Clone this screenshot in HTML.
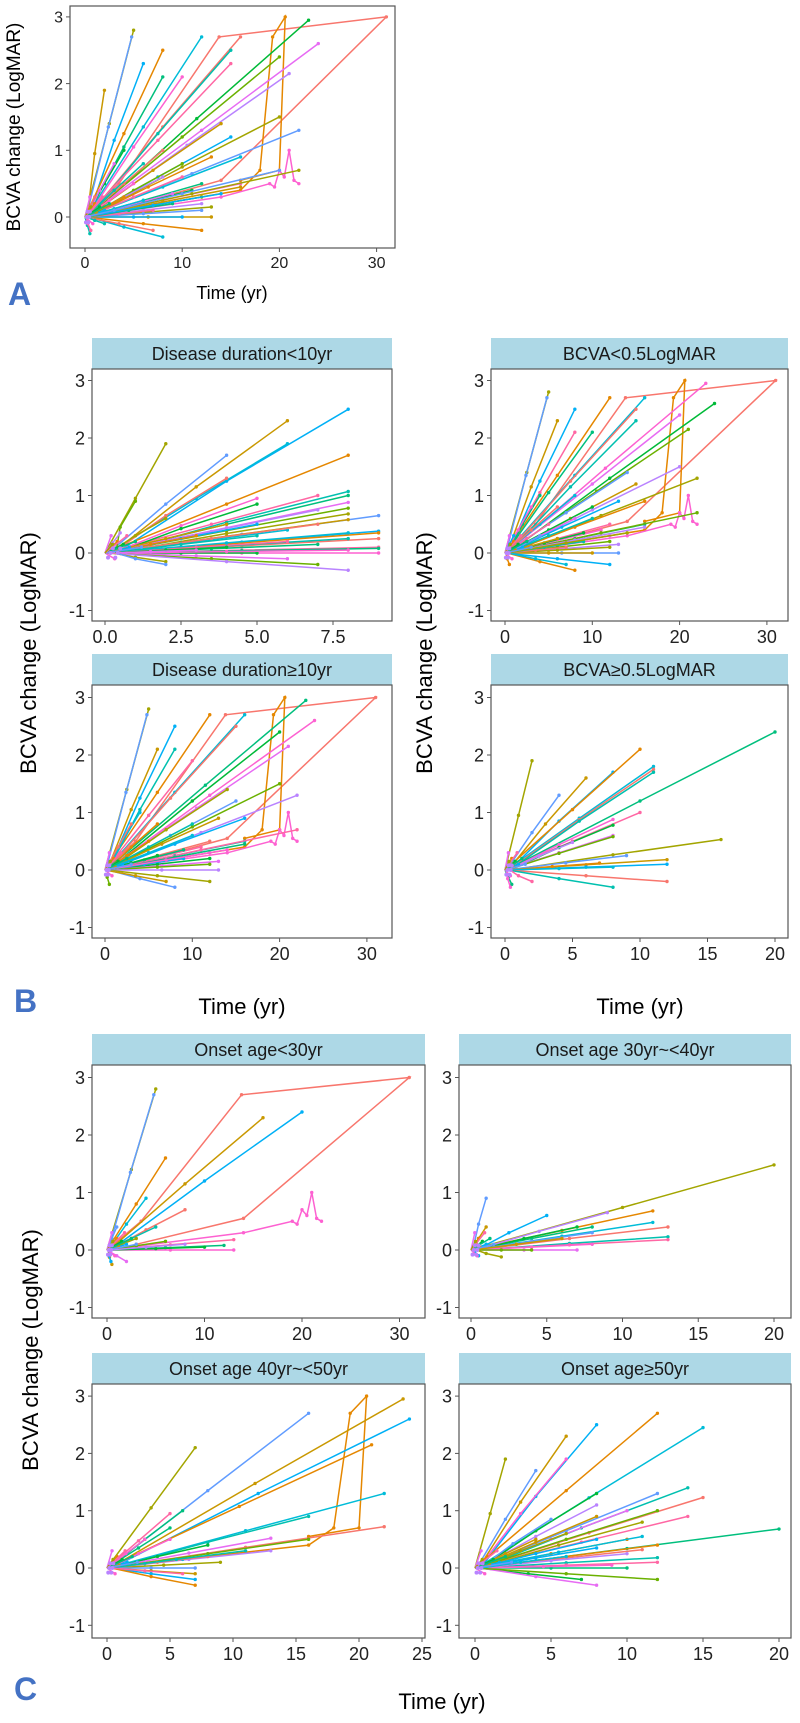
<!DOCTYPE html>
<html><head><meta charset="utf-8">
<style>
html,body{margin:0;padding:0;background:#fff;}
svg{display:block;font-family:"Liberation Sans",Arial,sans-serif;}
</style></head>
<body>
<svg id="fig" width="800" height="1723" viewBox="0 0 800 1723" xmlns="http://www.w3.org/2000/svg">
<text x="20" y="127" font-size="19" text-anchor="middle" transform="rotate(-90 20 127)">BCVA change (LogMAR)</text>
<text x="232" y="299" font-size="18" text-anchor="middle">Time (yr)</text>
<text x="8" y="305" font-size="32" font-weight="bold" fill="#4472C4">A</text>
<text x="36" y="653" font-size="22" text-anchor="middle" transform="rotate(-90 36 653)">BCVA change (LogMAR)</text>
<text x="432" y="653" font-size="22" text-anchor="middle" transform="rotate(-90 432 653)">BCVA change (LogMAR)</text>
<text x="242" y="1014" font-size="22" text-anchor="middle">Time (yr)</text>
<text x="640" y="1014" font-size="22" text-anchor="middle">Time (yr)</text>
<text x="14" y="1012" font-size="32" font-weight="bold" fill="#4472C4">B</text>
<text x="38" y="1350" font-size="22" text-anchor="middle" transform="rotate(-90 38 1350)">BCVA change (LogMAR)</text>
<text x="442" y="1709" font-size="22" text-anchor="middle">Time (yr)</text>
<text x="14" y="1700" font-size="32" font-weight="bold" fill="#4472C4">C</text>
</svg>
<script>
const aT=[5,4.8,2,6,8,12,16,15,15,8,10,23,24,20,21,20,22,14,15,13,16,8,6,10,12,16,11,9,12,12,13,12,13,10,12,8,7,2,7,9,5,4,3,10,8,22,20,16,14,4,6,1,0.5,0.6];
const aV=[2.8,2.7,1.9,2.3,2.5,2.7,2.7,2.5,2.3,2.1,2.1,2.95,2.6,2.4,2.15,1.5,1.3,1.4,1.2,0.9,0.9,1.0,0.8,0.6,0.5,0.5,0.4,0.35,0.3,0.2,0.15,0.1,0,0,-0.2,-0.3,-0.2,-0.1,0.1,0.2,0.5,1.0,0.8,0.8,0.6,0.7,0.7,0.45,0.35,0.3,0.25,0.3,-0.25,-0.2];
const b1T=[2,4,6,8,8,6,4,8,7,8,5,5,8,8,7,8,9,8,9,9,8,9,8,9,9,9,5,6,7,8,2,2,4,5,3,6,7,5,6,7,8,4,3,1,0.5,2];
const b1V=[1.9,1.7,2.3,2.5,1.7,1.9,1.3,1.07,1.0,1.0,0.95,0.85,0.88,0.78,0.75,0.68,0.65,0.58,0.38,0.35,0.35,0.25,0.25,0.1,0.08,0,0,-0.1,-0.2,-0.3,-0.15,-0.2,0.5,0.5,0.3,0.4,0.5,0.3,0.2,0.15,0.05,0.1,0.05,0.9,0.35,0.6];
const b2T=[5,4.8,6,8,12,16,15,15,8,10,23,24,20,21,20,22,14,15,13,16,8,6,10,12,16,11,9,12,12,13,12,13,10,12,8,7,7,9,5,4,3,10,8,22,16,14,4,6,1,0.5];
const b2V=[2.8,2.7,2.3,2.5,2.7,2.7,2.5,2.3,2.1,2.1,2.95,2.6,2.4,2.15,1.5,1.3,1.4,1.2,0.9,0.9,1.0,0.8,0.6,0.5,0.5,0.4,0.35,0.3,0.2,0.15,0.1,0,0,-0.2,-0.3,-0.2,0.1,0.2,0.5,1.0,0.8,0.8,0.6,0.7,0.45,0.35,0.3,0.25,0.3,-0.2];
const b3T=[5,4.8,6,8,12,16,15,8,10,23,24,20,21,20,22,14,15,13,16,6,10,12,16,11,9,12,12,13,12,13,12,8,7,9,5,4,3,10,22,16,14,6,1,0.5];
const b3V=[2.8,2.7,2.1,2.5,2.7,2.7,2.5,2.1,1.9,2.95,2.6,2.4,2.15,1.5,1.3,1.4,1.2,0.9,0.9,0.8,0.6,0.5,0.5,0.4,0.35,0.3,0.2,0.15,0.1,0,-0.2,-0.3,-0.2,0.2,0.5,1.0,0.8,0.8,0.7,0.45,0.35,0.25,0.2,-0.25];
const b4T=[2,4,6,8,10,11,11,11,10,20,8,8,8,8,5,16,9,12,12,7,8,12,8,2,0.5,0.4];
const b4V=[1.9,1.3,1.6,1.7,2.1,1.8,1.75,1.7,1.0,2.4,0.88,0.78,0.6,0.58,0.48,0.53,0.25,0.18,0.1,0.12,0.05,-0.2,-0.3,-0.2,-0.25,-0.3];
const c1T=[5,4.8,16,20,6,4,8,5,13,12,13,10,2,6,8,3,1,0.5,0.4];
const c1V=[2.8,2.7,2.3,2.4,1.6,0.9,0.7,0.4,0.18,0.08,0,0.05,-0.2,0.15,0.1,0.2,0.4,-0.25,-0.2];
const c2T=[20,1,1,5,12,12,13,13,13,8,8,7,7,4,9,2,8,6,0.5];
const c2V=[1.48,0.9,0.4,0.6,0.68,0.48,0.4,0.23,0.18,0.4,0.1,0.4,0,0,0.65,-0.12,0.3,0.2,-0.1];
const c3T=[7,16,23.5,24,21,22,22,16,5,6,5,8,13,16,13,9,7,7,7,7,6,8,11,6,5,3];
const c3V=[2.1,2.7,2.95,2.6,2.15,1.3,0.72,0.9,0.95,1.0,0.5,0.4,0.52,0.5,0.3,0.1,0,-0.1,-0.2,-0.3,0.15,0.2,0.3,-0.1,0.7,0.5];
const c4T=[2,4,6,8,12,15,15,14,14,20,6,8,10,12,8,11,12,8,8,10,11,11,12,12,10,9,7,8,12,10,6,5,4,8,12,6];
const c4V=[1.9,1.7,2.3,2.5,2.7,2.45,1.23,1.4,0.9,0.68,1.9,1.3,1.0,1.0,1.1,0.8,1.3,0.9,0.5,0.5,0.55,0.32,0.18,0.1,0,0.05,-0.2,-0.3,-0.2,0.25,0.6,0.85,0.5,0.35,0.4,0.2];
// short early-visit segments near origin
const shortT=[0.5,1,1.5,2,0.8,1.2,2.5,3,1.8,0.6];
const shortV=[0.3,0.2,0.15,0.1,-0.1,0.05,0.2,0.1,0.3,0.15];
const loopT=[0,3.5,13.8,31,14,3];
const loopV=[0,0.5,2.7,3,0.55,0.1];
const spikeT=[0,16,18,19.3,20.6,20,16];
const spikeV=[0,0.4,0.7,2.7,3,0.7,0.55];
const wigT=[0,14,19,19.5,20,20.5,21,21.5,22];
const wigV=[0,0.3,0.5,0.45,0.7,0.6,1.0,0.55,0.5];

const PAL=["#F8766D","#E58700","#C99800","#A3A500","#6BB100","#00BA38","#00BF7D","#00C0AF","#00BCD8","#00B0F6","#619CFF","#B983FF","#E76BF3","#FD61D1","#FF67A4"];
const NS="http://www.w3.org/2000/svg";
const svg=document.getElementById('fig');
function mk(tag,attrs,parent){const e=document.createElementNS(NS,tag);for(const k in attrs)e.setAttribute(k,attrs[k]);(parent||svg).appendChild(e);return e;}

function panel(id,cfg){
  const g=mk('g',{});
  
  
  const X=t=>cfg.x0+t*cfg.xs, Y=v=>cfg.y0-v*cfg.ys;
  if(cfg.strip){
    const s=mk('rect',{x:cfg.L,y:cfg.T-31,width:cfg.R-cfg.L,height:31,fill:"#ADD8E6"},g);
    
    
    const st=mk('text',{x:(cfg.L+cfg.R)/2,y:cfg.T-9,'font-size':18,'text-anchor':'middle',fill:'#1a1a1a'},g);
    st.textContent=cfg.strip;
    
    
  }
  const clip='clip-'+id;
  const cp=mk('clipPath',{id:clip},g);mk('rect',{x:cfg.L,y:cfg.T,width:cfg.R-cfg.L,height:cfg.B-cfg.T},cp);
  const lines=mk('g',{'clip-path':'url(#'+clip+')'},g);
  const drawPath=(ts,vs,ci,name)=>{
    const pts=ts.map((t,i)=>X(t).toFixed(1)+','+Y(vs[i]).toFixed(1)).join(' ');
    const pl=mk('polyline',{points:pts,fill:'none',stroke:PAL[ci%15],'stroke-width':1.5},lines);
    
    
    ts.forEach((t,i)=>{if(i>0)mk('circle',{cx:X(t),cy:Y(vs[i]),r:1.7,fill:PAL[ci%15]},lines);});
  };
  (cfg.specials||[]).forEach(s=>drawPath(s[0],s[1],s[2],id+'-special-trajectory'));
  cfg.T_.forEach((t,i)=>{
    const ci=(i*7+3)%15;
    const st=(i%4)*0.12;
    drawPath([st,t*0.5,t],[0,cfg.V_[i]*0.5,cfg.V_[i]],ci,id+'-trajectory');
  });
  shortT.forEach((t,i)=>{
    drawPath([0,t*cfg.sf],[0,shortV[i]],(i*4+12)%15,id+'-short-trajectory');
  });
  for(let k=0;k<6;k++)mk('circle',{cx:X(0.1+k*0.08),cy:Y(((k%3)-1)*0.08),r:2,fill:'#B983FF'},lines);
  const fr=mk('rect',{x:cfg.L,y:cfg.T,width:cfg.R-cfg.L,height:cfg.B-cfg.T,fill:'none',stroke:'#555','stroke-width':1.2},g);
  
  
  cfg.yt.forEach(v=>{
    mk('line',{x1:cfg.L-4,x2:cfg.L,y1:Y(v),y2:Y(v),stroke:'#555'},g);
    const tx=mk('text',{x:cfg.L-7,y:Y(v)+cfg.fs*0.36,'font-size':cfg.fs,'text-anchor':'end',fill:'#222'},g);
    tx.textContent=v;
    
    
  });
  cfg.xt.forEach((v,i)=>{
    mk('line',{x1:X(v),x2:X(v),y1:cfg.B,y2:cfg.B+4,stroke:'#555'},g);
    const tx=mk('text',{x:X(v),y:cfg.B+4+cfg.fs,'font-size':cfg.fs,'text-anchor':'middle',fill:'#222'},g);
    tx.textContent=cfg.xl?cfg.xl[i]:v;
    
    
  });
}
const Y5=[-1,0,1,2,3];
panel('a',{L:70,R:395,T:6,B:248,x0:85,xs:9.72,y0:217,ys:66.7,yt:[0,1,2,3],xt:[0,10,20,30],fs:16,sf:1,T_:aT,V_:aV,
  specials:[[loopT,loopV,0],[spikeT,spikeV,1],[wigT,wigV,13]]});
panel('b-duration-lt10',{strip:'Disease duration<10yr',L:92,R:392,T:369,B:621,x0:105,xs:30.4,y0:553,ys:57.5,yt:Y5,xt:[0,2.5,5,7.5],xl:['0.0','2.5','5.0','7.5'],fs:18,sf:0.4,T_:b1T,V_:b1V});
panel('b-bcva-lt05',{strip:'BCVA<0.5LogMAR',L:491,R:788,T:369,B:621,x0:505,xs:8.73,y0:553,ys:57.5,yt:Y5,xt:[0,10,20,30],fs:18,sf:1,T_:b2T,V_:b2V,
  specials:[[loopT,loopV,0],[spikeT,spikeV,1],[wigT,wigV,13]]});
panel('b-duration-ge10',{strip:'Disease duration≥10yr',L:92,R:392,T:685,B:938,x0:105,xs:8.73,y0:870,ys:57.5,yt:Y5,xt:[0,10,20,30],fs:18,sf:1,T_:b3T,V_:b3V,
  specials:[[loopT,loopV,0],[spikeT,spikeV,1],[wigT,wigV,13]]});
panel('b-bcva-ge05',{strip:'BCVA≥0.5LogMAR',L:491,R:788,T:685,B:938,x0:505,xs:13.5,y0:870,ys:57.5,yt:Y5,xt:[0,5,10,15,20],fs:18,sf:0.5,T_:b4T,V_:b4V});
panel('c-onset-lt30',{strip:'Onset age<30yr',L:92,R:425,T:1065,B:1318,x0:107,xs:9.75,y0:1250,ys:57.5,yt:Y5,xt:[0,10,20,30],fs:18,sf:1,T_:c1T,V_:c1V,
  specials:[[loopT,loopV,0],[wigT,wigV,13]]});
panel('c-onset-30-40',{strip:'Onset age 30yr~<40yr',L:459,R:791,T:1065,B:1318,x0:471,xs:15.15,y0:1250,ys:57.5,yt:Y5,xt:[0,5,10,15,20],fs:18,sf:0.5,T_:c2T,V_:c2V});
panel('c-onset-40-50',{strip:'Onset age 40yr~<50yr',L:92,R:425,T:1384,B:1638,x0:107,xs:12.6,y0:1568,ys:57.3,yt:Y5,xt:[0,5,10,15,20,25],fs:18,sf:0.8,T_:c3T,V_:c3V,
  specials:[[spikeT,spikeV,1]]});
panel('c-onset-ge50',{strip:'Onset age≥50yr',L:459,R:791,T:1384,B:1638,x0:475,xs:15.2,y0:1568,ys:57.3,yt:Y5,xt:[0,5,10,15,20],fs:18,sf:0.8,T_:c4T,V_:c4V});
</script>
</body></html>
